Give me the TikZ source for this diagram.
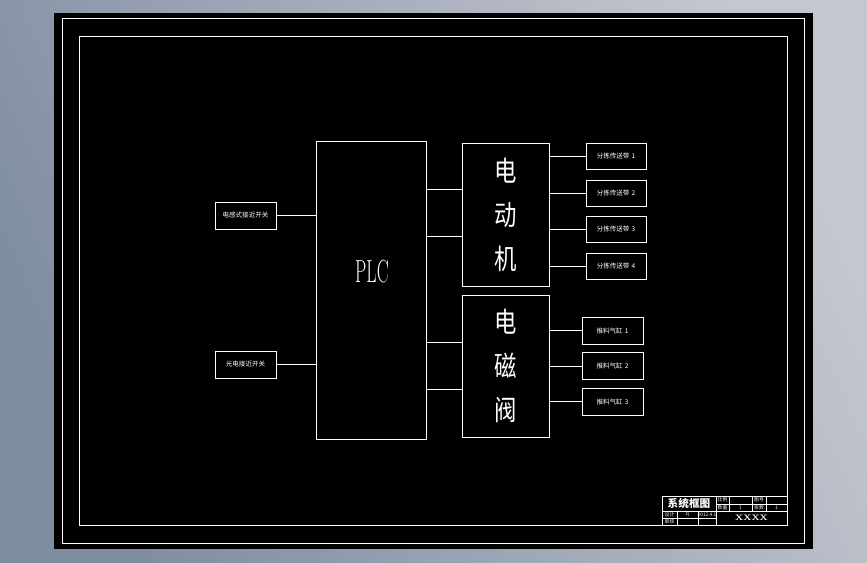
\documentclass[tikz,border=0pt]{standalone}
\usepackage{fontspec}
\newfontfamily\cjk{Noto Sans CJK SC}
\usetikzlibrary{positioning, calc}
\definecolor{cbgA}{HTML}{7F8DA2}
\definecolor{cbgB}{HTML}{C4C7CF}
\tikzset{
  every picture/.style={x=0.75pt, y=-0.75pt, line width=0.6pt},
  box/.style 2 args={draw=white, text=white, inner sep=0pt, align=center,
    minimum width=#1*0.75pt, minimum height=#2*0.75pt},
  wire/.style={draw=white, line width=0.5pt},
  tag/.style={font=\cjk\fontsize{4.9}{5}\selectfont},
  big/.style={font=\cjk\fontsize{21}{33}\selectfont},
  cell/.style={text=white, inner sep=0pt, font=\cjk\fontsize{3.6}{4}\selectfont},
}
\begin{document}
\begin{tikzpicture}
  % sheet and frames
  \shade[left color=cbgA, right color=cbgB, shading angle=115] (0,0) rectangle (867,562);
  \useasboundingbox (0,0) rectangle (867,562);
  \fill[black] (54,13) rectangle (813,549);
  \draw[white, line width=0.75pt] (62,18) rectangle (804,543);
  \draw[white, line width=0.75pt] (79,36) rectangle (787,525);
  % main blocks
  \node[box={110}{298}] (plc) at (371,290) {};
  \node[text=white, inner sep=0pt, font=\fontsize{24}{24}\selectfont] (plctxt) at ($(plc.center)+(1,-18)$) {\scalebox{0.56}[1]{PLC}};
  \node[box={87}{143}, big] (motor) at (505.5,214.5) {\scalebox{0.8}[1]{电}\\\scalebox{0.8}[1]{动}\\\scalebox{0.8}[1]{机}};
  \node[box={87}{142}, big] (valve) at (505.5,366) {\scalebox{0.8}[1]{电}\\\scalebox{0.8}[1]{磁}\\\scalebox{0.8}[1]{阀}};
  % inputs
  \node[box={61}{27}, tag] (sw1) at (245.5,215.5) {电感式接近开关};
  \node[box={61}{27}, tag] (sw2) at (245.5,364.5) {光电接近开关};
  \draw[wire] (sw1.east) -- (sw1.east -| plc.west);
  \draw[wire] (sw2.east) -- (sw2.east -| plc.west);
  % plc to outputs
  \foreach \y in {189, 236} \draw[wire] (plc.east |- 0,\y) -- (motor.west |- 0,\y);
  \foreach \y in {342, 389} \draw[wire] (plc.east |- 0,\y) -- (valve.west |- 0,\y);
  % motor loads
  \foreach \y [count=\i] in {156, 193, 229, 266.5} {
    \node[box={60}{26}, tag] (m\i) at (616,\y) {分拣传送带\,\,\i};
    \draw[wire] (m\i.west -| motor.east) -- (m\i.west);
  }
  % valve loads
  \foreach \y [count=\i] in {330.5, 366, 401.5} {
    \node[box={61}{27}, tag] (v\i) at (612.5,\y) {推料气缸\,\,\i};
    \draw[wire] (v\i.west -| valve.east) -- (v\i.west);
  }
  % title block
  \draw[white, line width=0.7pt] (662,496) rectangle (787,525);
  \draw[white, line width=0.5pt] (716,496) -- (716,525)
    (662,511) -- (716,511) (662,518) -- (716,518)
    (677,511) -- (677,525) (698,511) -- (698,525)
    (716,504) -- (787,504) (716,511) -- (787,511)
    (729,496) -- (729,511) (752,496) -- (752,511) (766,496) -- (766,511);
  \node[cell, font=\cjk\bfseries\fontsize{8}{8}\selectfont] (tt) at (689,503.5) {系统框图};
  \node[cell] (c1) at (669.5,514.5) {设计};
  \node[cell] (c2) at (687.5,514.5) {zj};
  \node[cell] (c3) at (707,514.5) {2012.4.1};
  \node[cell] (c4) at (669.5,521.5) {审核};
  \node[cell] (c5) at (722.5,500) {比例};
  \node[cell] (c6) at (722.5,507.5) {数量};
  \node[cell] (c7) at (740.5,507.5) {1};
  \node[cell] (c8) at (759,500) {图号};
  \node[cell] (c9) at (759,507.5) {张数};
  \node[cell] (c10) at (776.5,507.5) {1};
  \node[cell, font=\bfseries\fontsize{6}{6}\selectfont] (c11) at (751.5,518) {XXXX};
\end{tikzpicture}
\end{document}
